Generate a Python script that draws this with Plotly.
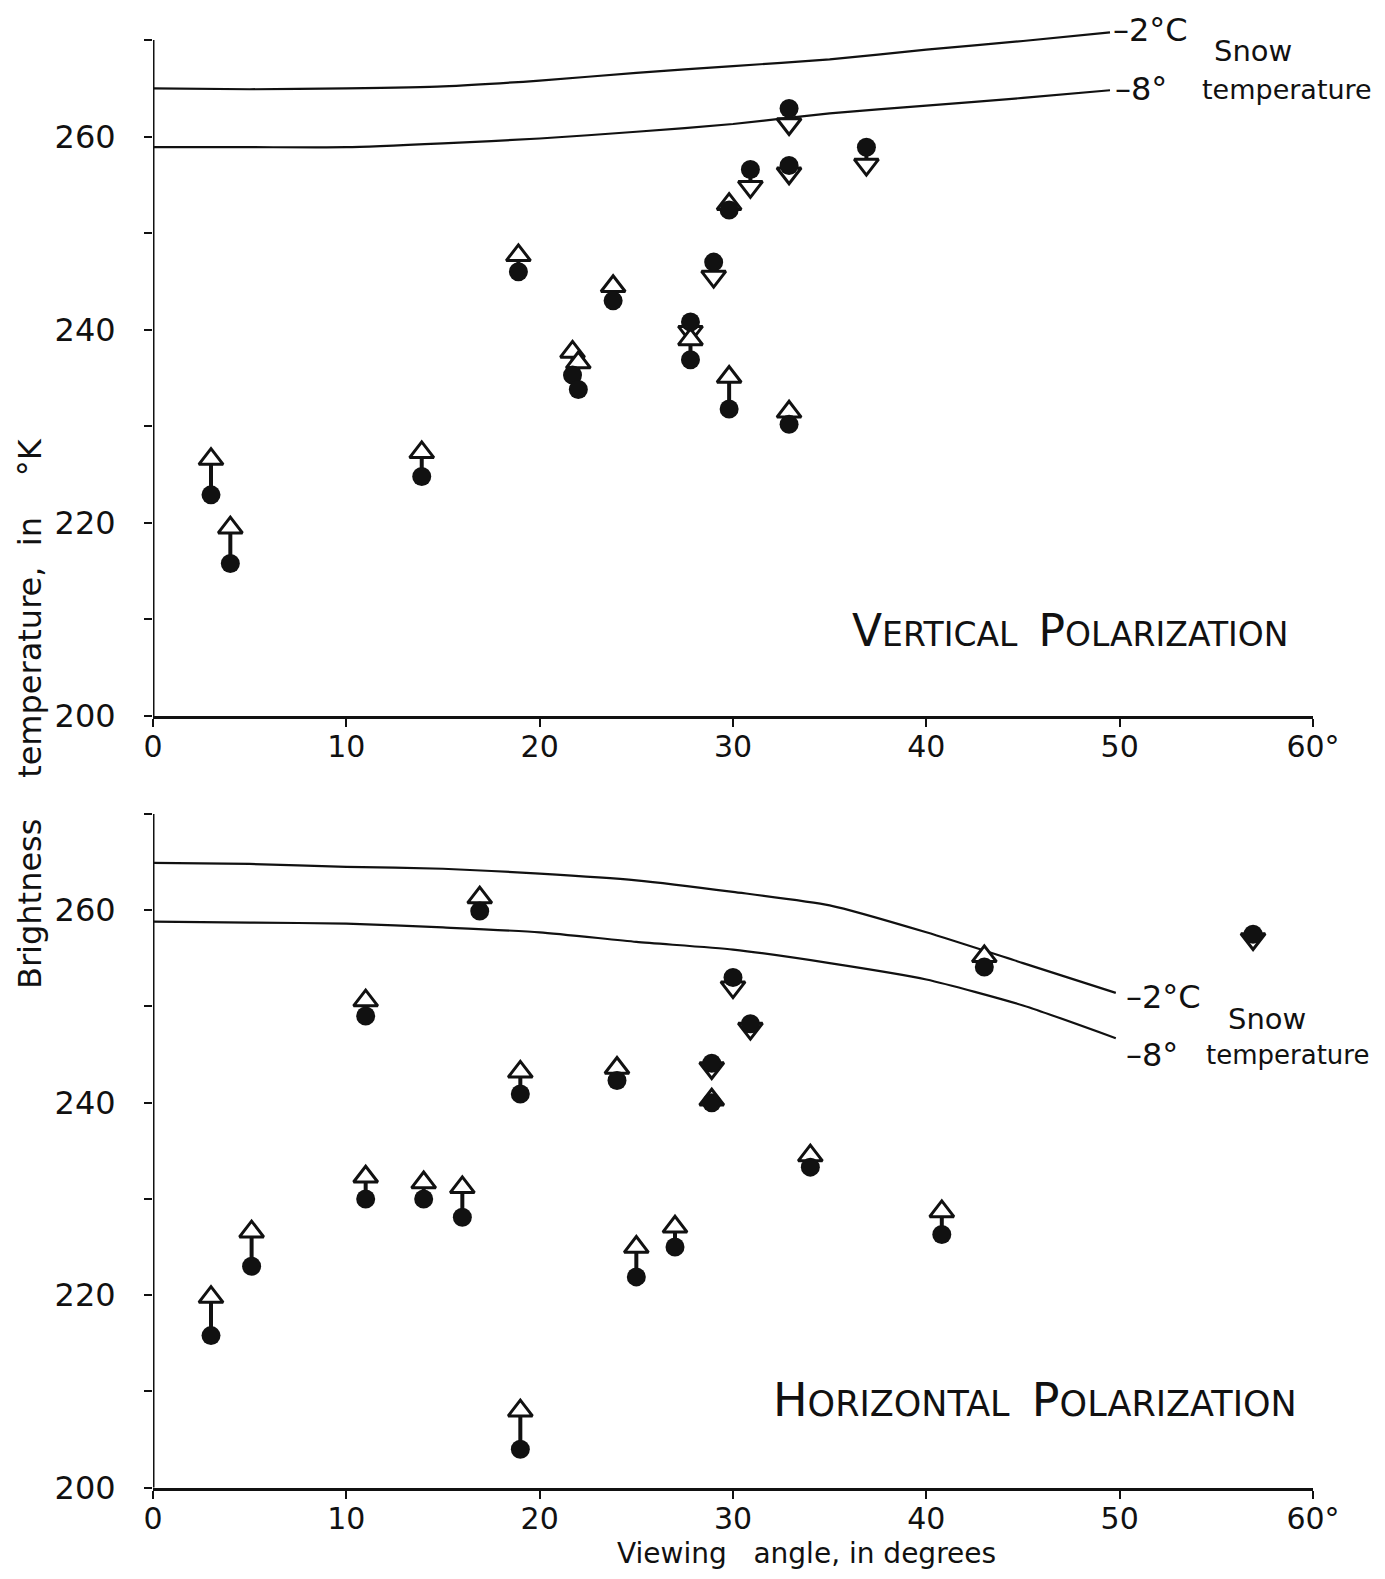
import plotly.graph_objects as go

# ---------------- data ----------------
# Vertical polarization: viewing angle, measured (filled circle), corrected (open triangle)
v_angle = [3, 4, 13.9, 18.9, 21.7, 22.0, 23.8, 27.8, 27.8, 29.0, 29.8, 29.8, 30.9, 32.9, 32.9, 32.9, 36.9]
v_meas  = [222.9, 215.8, 224.8, 246.0, 235.3, 233.8, 243.0, 240.8, 236.9, 247.0, 252.4, 231.8, 256.6, 262.9, 257.0, 230.2, 258.9]
v_corr  = [226.6, 219.5, 227.3, 247.7, 237.7, 236.6, 244.5, 239.8, 239.0, 245.5, 253.0, 235.1, 254.8, 261.3, 256.2, 231.5, 257.1]

# Horizontal polarization
h_angle = [3.0, 5.1, 11.0, 11.0, 14.0, 16.0, 16.9, 19.0, 19.0, 24.0, 25.0, 27.0, 28.9, 28.9, 30.0, 30.9, 34.0, 40.8, 43.0, 56.9]
h_meas  = [215.8, 223.0, 249.0, 230.0, 230.0, 228.1, 259.9, 240.9, 204.0, 242.3, 221.9, 225.0, 244.1, 240.0, 253.0, 248.2, 233.3, 226.3, 254.1, 257.5]
h_corr  = [219.8, 226.6, 250.6, 232.3, 231.7, 231.2, 261.3, 243.2, 208.0, 243.6, 225.0, 227.1, 243.6, 240.3, 252.0, 247.7, 234.5, 228.7, 255.2, 257.0]

# Snow temperature curves
snow_x_v   = [0, 5, 10, 15, 20, 25, 30, 35, 40, 45, 49.5]
snow_v_m2  = [265.0, 264.9, 265.0, 265.2, 265.8, 266.6, 267.3, 268.0, 269.0, 269.9, 270.8]
snow_v_m8  = [258.9, 258.9, 258.9, 259.3, 259.8, 260.5, 261.3, 262.4, 263.2, 264.0, 264.8]
snow_x_h   = [0, 5, 10, 15, 20, 25, 30, 35, 40, 45, 49.8]
snow_h_m2  = [264.9, 264.8, 264.5, 264.3, 263.8, 263.1, 261.9, 260.5, 257.7, 254.5, 251.4]
snow_h_m8  = [258.8, 258.7, 258.6, 258.2, 257.7, 256.7, 255.9, 254.5, 252.8, 250.1, 246.7]

x_tickvals = [0, 10, 20, 30, 40, 50, 60]
x_ticktext = ["0", "10", "20", "30", "40", "50", "60°"]
y_tickvals = [200, 210, 220, 230, 240, 250, 260, 270]
y_ticktext = ["200", "", "220", "", "240", "", "260", ""]

FONT = "DejaVu Sans"
BLACK = "#111111"

fig = go.Figure()


def add_panel(xa, ya, angle, meas, corr, sx, s2, s8):
    # snow temperature curves
    for yy in (s2, s8):
        fig.add_trace(go.Scatter(x=sx, y=yy, mode="lines", xaxis=xa, yaxis=ya,
                                 line=dict(color=BLACK, width=2.2, shape="spline", smoothing=0.6),
                                 hoverinfo="skip", showlegend=False))
    # stems
    sx_, sy_ = [], []
    for a, m, c in zip(angle, meas, corr):
        sx_ += [a, a, None]
        sy_ += [m, c, None]
    fig.add_trace(go.Scatter(x=sx_, y=sy_, mode="lines", xaxis=xa, yaxis=ya,
                             line=dict(color=BLACK, width=4), hoverinfo="skip",
                             showlegend=False, cliponaxis=False))
    # triangles
    syms = ["triangle-up" if c >= m else "triangle-down" for m, c in zip(meas, corr)]
    fig.add_trace(go.Scatter(x=angle, y=corr, mode="markers", xaxis=xa, yaxis=ya,
                             marker=dict(symbol=syms, size=21, color="white",
                                         line=dict(color=BLACK, width=3)),
                             showlegend=False, cliponaxis=False))
    # circles
    fig.add_trace(go.Scatter(x=angle, y=meas, mode="markers", xaxis=xa, yaxis=ya,
                             marker=dict(symbol="circle", size=19, color=BLACK,
                                         line=dict(width=0)),
                             showlegend=False, cliponaxis=False))


add_panel("x", "y", v_angle, v_meas, v_corr, snow_x_v, snow_v_m2, snow_v_m8)
add_panel("x2", "y2", h_angle, h_meas, h_corr, snow_x_h, snow_h_m2, snow_h_m8)

# the page body adds an 8px offset; figure sized so it fits the window
OFF = 8
W, H = 1385 - 2 * OFF, 1579 - 2 * OFF
L = 153 - OFF
R = W - (1313 - OFF)

axis_common_x = dict(range=[0, 60], showgrid=False, zeroline=False, showline=True,
                     linecolor=BLACK, linewidth=3, ticks="outside", ticklen=8,
                     tickwidth=2, tickcolor=BLACK, tickvals=x_tickvals, ticktext=x_ticktext,
                     automargin=False, ticklabelstandoff=-6,
                     tickfont=dict(family=FONT, size=30, color=BLACK))
axis_common_y = dict(range=[200, 273], showgrid=False, zeroline=False, showline=False,
                     ticks="outside", ticklen=8, tickwidth=2, tickcolor=BLACK,
                     tickvals=y_tickvals, ticktext=y_ticktext, ticklabelstandoff=22,
                     automargin=False,
                     tickfont=dict(family=FONT, size=32, color=BLACK))

# panel placement (target page pixels -> paper fractions)
top_y200, top_ppu = 716.0 - OFF, 9.657
bot_y200, bot_ppu = 1487.7 - OFF, 9.626


def dom(y200, ppu):
    lo = (H - y200) / H
    hi = (H - (y200 - 73 * ppu)) / H
    return [lo, hi]


fig.update_layout(
    width=W, height=H,
    margin=dict(l=L, r=R, t=0, b=0, autoexpand=False),
    paper_bgcolor="white", plot_bgcolor="white",
    xaxis=dict(axis_common_x, anchor="y", domain=[0, 1]),
    yaxis=dict(axis_common_y, anchor="x", domain=dom(top_y200, top_ppu)),
    xaxis2=dict(axis_common_x, anchor="y2", domain=[0, 1]),
    yaxis2=dict(axis_common_y, anchor="x2", domain=dom(bot_y200, bot_ppu)),
    showlegend=False,
)

# y axis lines 200..270
for ya, xa in (("y", "x"), ("y2", "x2")):
    fig.add_shape(type="line", xref=xa, yref=ya, x0=0, x1=0, y0=200, y1=270,
                  line=dict(color=BLACK, width=3))


def smallcaps(words, small, big):
    return "  ".join(f"<span style='font-size:{big}px'>{w[0]}</span>{w[1:]}" for w in words)


vert_txt = smallcaps(["VERTICAL", "POLARIZATION"], 33, 44)
hor_txt = smallcaps(["HORIZONTAL", "POLARIZATION"], 35, 46)

pw = W - L - R
ann = [
    # top panel labels
    dict(x=49.6, y=271.0, xref="x", yref="y", text="–2°C", xanchor="left", size=32),
    dict(x=56.9, y=268.9, xref="x", yref="y", text="Snow", xanchor="center", size=29),
    dict(x=49.7, y=264.9, xref="x", yref="y", text="–8°", xanchor="left", size=32),
    dict(x=54.2, y=264.9, xref="x", yref="y", text="temperature", xanchor="left", size=27),
    dict(x=36.1, y=208.9, xref="x", yref="y", xanchor="left", text=vert_txt, size=33),
    # bottom panel labels
    dict(x=50.3, y=251.0, xref="x2", yref="y2", text="–2°C", xanchor="left", size=32),
    dict(x=57.6, y=248.7, xref="x2", yref="y2", text="Snow", xanchor="center", size=29),
    dict(x=50.3, y=244.9, xref="x2", yref="y2", text="–8°", xanchor="left", size=32),
    dict(x=54.4, y=244.9, xref="x2", yref="y2", text="temperature", xanchor="left", size=26),
    dict(x=32.0, y=209.1, xref="x2", yref="y2", xanchor="left", text=hor_txt, size=35),
    # axis titles
    dict(x=(806 - OFF - L) / pw, y=0, xref="paper", yref="paper", yanchor="bottom",
         text="Viewing   angle, in degrees", xanchor="center", size=28),
    dict(x=(30 - OFF - L) / pw, y=(H - (714 - OFF)) / H, xref="paper", yref="paper",
         text="Brightness    temperature,  in    °K", textangle=-90, xanchor="center", size=32),
]
for a in ann:
    a.setdefault("yanchor", "middle")
    size = a.pop("size")
    fig.add_annotation(showarrow=False, borderpad=0,
                       font=dict(family=FONT, size=size, color=BLACK), **a)

fig.write_html("out.html")
